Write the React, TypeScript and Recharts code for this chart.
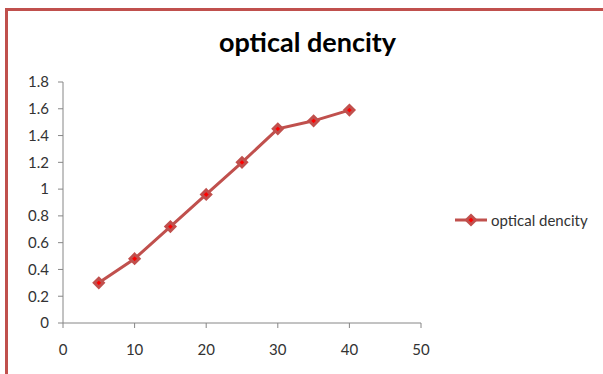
import React from "react";
import { Line, LineChart, XAxis, YAxis } from "recharts";

const time = [5, 10, 15, 20, 25, 30, 35, 40];
const density = [0.3, 0.48, 0.72, 0.96, 1.2, 1.45, 1.51, 1.59];
const xTicks = [0, 10, 20, 30, 40, 50];
const yTicks = [0, 0.2, 0.4, 0.6, 0.8, 1, 1.2, 1.4, 1.6, 1.8];

const seriesName = "optical dencity";
const lineColor = "#C0504D";
const fontFamily = "Lato, 'Open Sans', sans-serif";

const data = time.map((t, i) => ({ time: t, density: density[i] }));

// Excel style diamond marker
const Diamond = (props: any) => {
  const { cx, cy, index } = props;
  if (cx == null || cy == null) return <g key={index} />;
  const r = 4.5;
  return (
    <path
      key={index}
      d={`M${cx},${cy - r} L${cx + r},${cy} L${cx},${cy + r} L${cx - r},${cy} Z`}
      fill="#FF0000"
      stroke={lineColor}
      strokeWidth={3}
    />
  );
};

const LegendBox = () => (
  <div
    style={{
      position: "absolute",
      left: 454,
      top: 211,
      display: "flex",
      alignItems: "center",
      fontFamily,
    }}
  >
    <svg width={34} height={14}>
      <line x1={1} y1={7} x2={33} y2={7} stroke={lineColor} strokeWidth={3} />
      <path d="M17,2.5 L21.5,7 L17,11.5 L12.5,7 Z" fill="#FF0000" stroke={lineColor} strokeWidth={3} />
    </svg>
    <span style={{ fontSize: 15, color: "#333", marginLeft: 3 }}>{seriesName}</span>
  </div>
);

export default function App() {
  return (
    <div
      style={{
        position: "absolute",
        left: 0,
        top: 0,
        width: 603,
        height: 374,
        overflow: "hidden",
        background: "#fff",
      }}
    >
      <div
        style={{
          position: "absolute",
          left: 5,
          top: 8,
          width: 800,
          height: 600,
          border: `3px solid ${lineColor}`,
          boxSizing: "border-box",
        }}
      />
      <div
        style={{
          position: "absolute",
          left: 0,
          width: 615,
          top: 25,
          textAlign: "center",
          fontFamily,
          fontWeight: "bold",
          fontSize: 27,
          color: "#000",
        }}
      >
        {seriesName}
      </div>
      <div style={{ position: "absolute", left: 0, top: 0 }}>
        <LineChart
          width={603}
          height={374}
          data={data}
          margin={{ top: 82, right: 182, bottom: 21, left: 0 }}
        >
          <XAxis
            dataKey="time"
            type="number"
            domain={[0, 50]}
            ticks={xTicks}
            height={30}
            stroke="#868686"
            tickSize={5}
            tickMargin={16}
            tick={{ fill: "#333", fontSize: 15, fontFamily }}
          />
          <YAxis
            type="number"
            domain={[0, 1.8]}
            ticks={yTicks}
            width={63}
            stroke="#868686"
            tickSize={5}
            tickMargin={9}
            tick={{ fill: "#333", fontSize: 15, fontFamily }}
            tickFormatter={(v: number) => String(Math.round(v * 10) / 10)}
          />
          <Line
            dataKey="density"
            name={seriesName}
            stroke={lineColor}
            strokeWidth={3}
            dot={<Diamond />}
            activeDot={false}
            isAnimationActive={false}
          />
        </LineChart>
      </div>
      <LegendBox />
    </div>
  );
}
